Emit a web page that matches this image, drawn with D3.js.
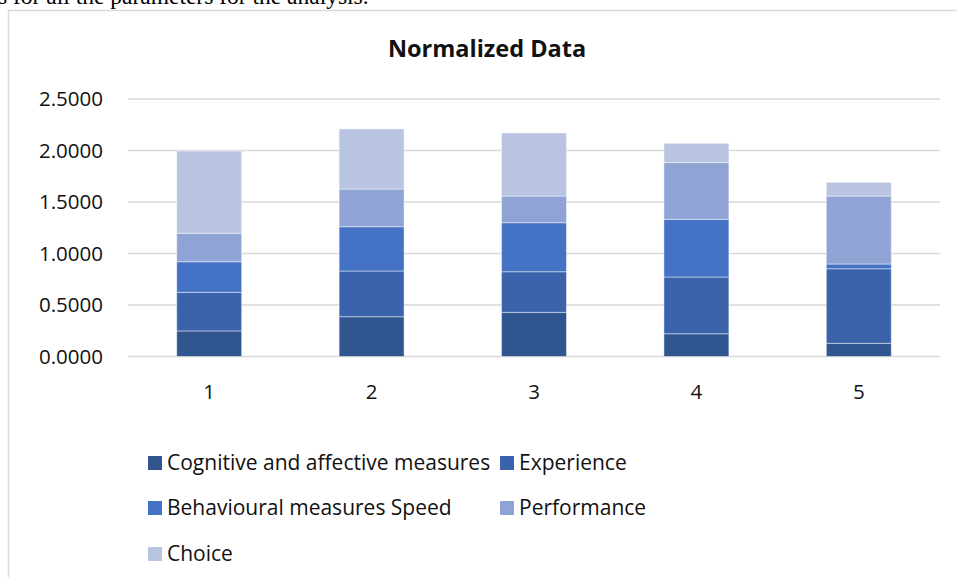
<!DOCTYPE html>
<html>
<head>
<meta charset="utf-8">
<script src="https://cdn.jsdelivr.net/npm/d3@7"></script>
<style>
  body { margin: 0; background: #fff; }
  svg { display: block; }
</style>
</head>
<body>
<div id="chart"></div>
<script>
// values
const categories = ["1", "2", "3", "4", "5"];
const seriesNames = ["Cognitive and affective measures", "Experience",
  "Behavioural measures Speed", "Performance", "Choice"];
const cognitive = [0.248, 0.386, 0.429, 0.221, 0.128];
const experience = [0.375, 0.444, 0.394, 0.551, 0.724];
const speed = [0.297, 0.430, 0.476, 0.560, 0.046];
const performance = [0.276, 0.366, 0.259, 0.550, 0.660];
const choice = [0.799, 0.583, 0.612, 0.188, 0.133];
const yTicks = [0, 0.5, 1, 1.5, 2, 2.5];

const colors = ["#31558f", "#3b63ab", "#4472c4", "#8fa3d4", "#b9c3e2"];

const W = 957, H = 577
  , font = "'Open Sans', 'Noto Sans', sans-serif"
  , labelSize = 20.5;

const svg = d3.select("#chart").append("svg")
  .attr("width", W)
  .attr("height", H);

// cut off line of the page text above the chart
svg.append("text")
  .attr("x", -2)
  .attr("y", 4)
  .style("font-family", "'Liberation Serif', serif")
  .style("font-size", "23.5px")
  .style("fill", "#000")
  .text("s for all the parameters for the analysis.");

// chart frame
svg.append("path")
  .attr("d", `M8.5,${H + 5} V10.5 H${W + 5}`)
  .style("fill", "none")
  .style("stroke", "#d9d9d9")
  .style("stroke-width", 1.5);

svg.append("text")
  .attr("x", 487)
  .attr("y", 57)
  .attr("text-anchor", "middle")
  .style("font-family", font)
  .style("font-size", "23.5px")
  .style("font-weight", "bold")
  .style("fill", "#111")
  .text("Normalized Data");

const x = d3.scaleBand()
  .domain(categories)
  .range([128, 940])
  .paddingInner(0.6)
  .paddingOuter(0.3);

const y = d3.scaleLinear()
  .domain([0, 2.5])
  .range([356.5, 99]);

// gridlines
svg.append("g")
  .selectAll("line")
  .data(yTicks)
  .enter().append("line")
  .attr("x1", 128)
  .attr("x2", 940)
  .attr("y1", d => y(d))
  .attr("y2", d => y(d))
  .style("stroke", "#d9d9d9")
  .style("stroke-width", 1.3);

const yAxis = svg.append("g")
  .attr("transform", "translate(128,0)")
  .call(d3.axisLeft(y).tickValues(yTicks).tickFormat(d3.format(".4f")).tickSize(0).tickPadding(25));
yAxis.select(".domain").remove();
yAxis.selectAll("text")
  .style("font-family", font)
  .style("font-size", labelSize + "px")
  .style("fill", "#111");

const xAxis = svg.append("g")
  .attr("transform", `translate(0,${y(0)})`)
  .call(d3.axisBottom(x).tickSize(0).tickPadding(28));
xAxis.select(".domain").remove();
xAxis.selectAll("text")
  .style("font-family", font)
  .style("font-size", labelSize + "px")
  .style("fill", "#111");

const rows = categories.map((c, i) => ({
  cat: c,
  s0: cognitive[i], s1: experience[i], s2: speed[i], s3: performance[i], s4: choice[i]
}));
const stack = d3.stack().keys(["s0", "s1", "s2", "s3", "s4"])(rows);

svg.append("g")
  .selectAll("g")
  .data(stack)
  .enter().append("g")
  .style("fill", (d, i) => colors[i])
  .selectAll("rect")
  .data(d => d)
  .enter().append("rect")
  .attr("x", d => x(d.data.cat))
  .attr("y", d => y(d[1]))
  .attr("width", x.bandwidth())
  .attr("height", d => y(d[0]) - y(d[1]))
  .style("stroke", "rgba(255,255,255,0.45)")
  .style("stroke-width", 1);

// legend, two columns
const legendPos = [[148, 463], [500, 463], [148, 508], [500, 508], [148, 554]];
const legend = svg.append("g")
  .selectAll("g")
  .data(seriesNames)
  .enter().append("g")
  .attr("transform", (d, i) => `translate(${legendPos[i][0]},${legendPos[i][1]})`);
legend.append("rect")
  .attr("x", 0)
  .attr("y", -7)
  .attr("width", 14)
  .attr("height", 14)
  .style("fill", (d, i) => colors[i]);
legend.append("text")
  .attr("x", 19)
  .attr("y", 0)
  .attr("dy", "0.35em")
  .style("font-family", font)
  .style("font-size", "21px")
  .style("fill", "#111")
  .text(d => d);
</script>
</body>
</html>
